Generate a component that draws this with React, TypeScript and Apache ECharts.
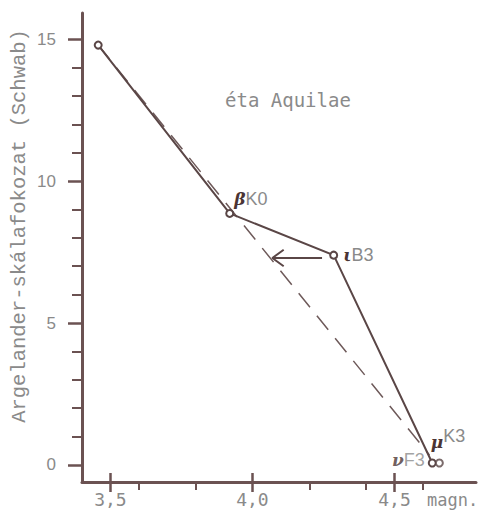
import React, { useEffect, useRef } from "react";
import * as echarts from "echarts";

// ---- data ----
const starLetters = ["", "β", "ι", "μ"];
const spectralClasses = ["", "K0", "B3", "K3"];
const magnitudes = [3.457, 3.92, 4.286, 4.633];
const argelanderSteps = [14.79, 8.86, 7.39, 0.07];
const nuLetter = "ν";
const nuClass = "F3";
const nuMagnitude = 4.658;
const nuStep = 0.07;
const trendLine = [
  [3.457, 14.79],
  [4.623, 0.35],
];
const arrowShaft = [
  [4.245, 7.29],
  [4.07, 7.29],
];
const arrowHead = [
  [4.11, 7.58],
  [4.07, 7.29],
  [4.11, 7.0],
];
const xMajorTicks = [3.5, 4.0, 4.5];
const xMinorTicks = [3.6, 3.8, 4.2, 4.4, 4.6];
const yMajorTicks = [0, 5, 10, 15];
const yMinorTicks = [1, 2, 3, 4, 6, 7, 8, 9, 11, 12, 13, 14];
const xRange = [3.4, 4.787];
const yRange = [-0.6, 15.92];
const titleText = "éta Aquilae";
const yAxisTitle = "Argelander-skálafokozat (Schwab)";
const xAxisUnit = "magn.";

const AXIS = "#6b5252";
const LINE = "#5a4646";
const DASH = "#6e5a5a";
const TEXT = "#8a8a8a";
const GREEK = "#4a3434";

const rich = {
  g: {
    fontFamily: "DejaVu Serif",
    fontStyle: "italic",
    fontWeight: "bold",
    fontSize: 17,
    color: GREEK,
  },
  s: { fontFamily: "Liberation Sans", fontSize: 18, color: TEXT },
  sup: {
    fontFamily: "Liberation Sans",
    fontSize: 18,
    color: TEXT,
    padding: [0, 0, 12, 0],
  },
};

const placements: any[] = [
  null,
  { position: "right", distance: 0, offset: [0, -14], fmt: "s" },
  { position: "right", distance: 5, offset: [0, 0], fmt: "s" },
  { position: "right", distance: 0, offset: [-6, -21], fmt: "sup" },
];

export default function App() {
  const ref = useRef<HTMLDivElement>(null);
  useEffect(() => {
    if (!ref.current) return;
    const chart = echarts.init(ref.current, null, { renderer: "svg" });

    const mainData = magnitudes.map((m, i) => {
      const p = placements[i];
      const item: any = { value: [m, argelanderSteps[i]] };
      if (p) {
        item.label = {
          show: true,
          position: p.position,
          distance: p.distance,
          offset: p.offset,
          formatter: `{g|${starLetters[i]}}{${p.fmt}|${spectralClasses[i]}}`,
          rich,
        };
      }
      return item;
    });

    const xBase = {
      type: "value",
      min: xRange[0],
      max: xRange[1],
      position: "bottom",
      splitLine: { show: false },
    };
    const yBase = {
      type: "value",
      min: yRange[0],
      max: yRange[1],
      position: "left",
      splitLine: { show: false },
    };

    chart.setOption({
      animation: false,
      backgroundColor: "#ffffff",
      grid: { left: 82, top: 13, right: 10, bottom: 31, containLabel: false },
      xAxis: [
        {
          ...xBase,
          axisLine: { show: true, onZero: false, lineStyle: { color: AXIS, width: 3 } },
          axisTick: {
            show: true,
            customValues: xMajorTicks,
            length: 10,
            lineStyle: { color: AXIS, width: 2.5 },
          },
          axisLabel: {
            show: true,
            customValues: xMajorTicks,
            margin: 8,
            formatter: (v: number) => v.toFixed(1).replace(".", ","),
            fontFamily: "DejaVu Sans Mono",
            fontSize: 18,
            color: TEXT,
          },
        },
        {
          ...xBase,
          axisLine: { show: false, onZero: false },
          axisTick: {
            show: true,
            inside: true,
            customValues: xMajorTicks,
            length: 9,
            lineStyle: { color: AXIS, width: 2.5 },
          },
          axisLabel: { show: false },
        },
        {
          ...xBase,
          axisLine: { show: false, onZero: false },
          axisTick: {
            show: true,
            customValues: xMinorTicks,
            length: 8,
            lineStyle: { color: AXIS, width: 2 },
          },
          axisLabel: { show: false },
        },
      ],
      yAxis: [
        {
          ...yBase,
          axisLine: { show: true, onZero: false, lineStyle: { color: AXIS, width: 3 } },
          axisTick: {
            show: true,
            customValues: yMajorTicks,
            length: 14,
            lineStyle: { color: AXIS, width: 2.5 },
          },
          axisLabel: {
            show: true,
            customValues: yMajorTicks,
            margin: 26,
            fontFamily: "Liberation Sans",
            fontSize: 17,
            color: TEXT,
          },
        },
        {
          ...yBase,
          axisLine: { show: false, onZero: false },
          axisTick: {
            show: true,
            customValues: yMinorTicks,
            length: 10,
            lineStyle: { color: AXIS, width: 2 },
          },
          axisLabel: { show: false },
        },
      ],
      series: [
        {
          type: "line",
          data: trendLine,
          symbol: "none",
          lineStyle: { color: DASH, width: 1.5, type: [18, 11] },
          z: 1,
        },
        {
          type: "line",
          data: mainData,
          symbol: "circle",
          symbolSize: 7,
          itemStyle: { color: "#ffffff", borderColor: LINE, borderWidth: 2 },
          lineStyle: { color: LINE, width: 2 },
          z: 3,
        },
        {
          type: "scatter",
          data: [
            {
              value: [nuMagnitude, nuStep],
              label: {
                show: true,
                position: "left",
                distance: 10,
                offset: [0, -3],
                formatter: `{g|${nuLetter}}{s|${nuClass}}`,
                rich,
              },
            },
          ],
          symbol: "circle",
          symbolSize: 7,
          itemStyle: { color: "#ffffff", borderColor: LINE, borderWidth: 2 },
          z: 3,
        },
        {
          type: "line",
          data: arrowShaft,
          symbol: "none",
          lineStyle: { color: LINE, width: 2 },
          z: 2,
        },
        {
          type: "line",
          data: arrowHead,
          symbol: "none",
          lineStyle: { color: LINE, width: 2 },
          z: 2,
        },
      ],
      graphic: [
        {
          type: "text",
          x: 225,
          y: 100,
          style: {
            text: titleText,
            fontFamily: "DejaVu Sans Mono",
            fontSize: 19,
            fill: TEXT,
            align: "left",
            verticalAlign: "middle",
          },
        },
        {
          type: "text",
          x: 19,
          y: 226,
          rotation: Math.PI / 2,
          style: {
            text: yAxisTitle,
            fontFamily: "Liberation Mono",
            fontSize: 20.5,
            fill: TEXT,
            align: "center",
            verticalAlign: "middle",
          },
        },
        {
          type: "text",
          x: 427,
          y: 500,
          style: {
            text: xAxisUnit,
            fontFamily: "DejaVu Sans Mono",
            fontSize: 17,
            fill: TEXT,
            align: "left",
            verticalAlign: "middle",
          },
        },
      ],
    });
    return () => chart.dispose();
  }, []);

  return (
    <div
      ref={ref}
      style={{ position: "fixed", left: 0, top: 0, width: 486, height: 513 }}
    />
  );
}
